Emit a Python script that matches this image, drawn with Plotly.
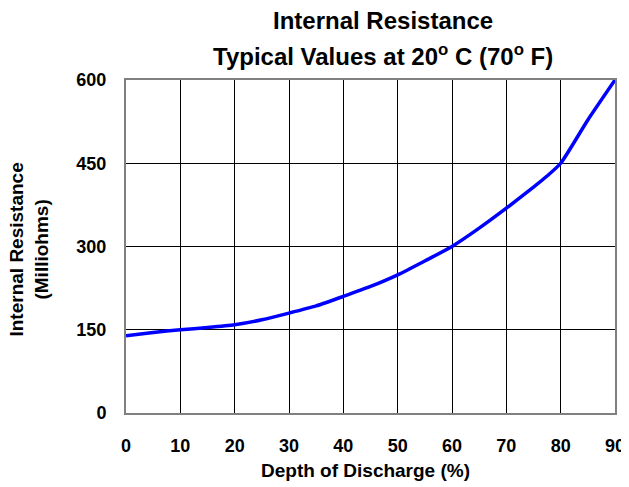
import plotly.graph_objects as go

depth = [0, 5, 10, 15, 20, 25, 30, 35, 40, 45, 50, 55, 60, 65, 70, 75, 77.5, 80, 85, 90]
resistance = [139, 145, 150, 154, 159, 168, 180, 193, 210, 228, 249, 274, 300, 333, 369, 407, 427, 450, 528, 600]

x_ticks = [0, 10, 20, 30, 40, 50, 60, 70, 80, 90]
y_ticks = [0, 150, 300, 450, 600]

title_line1 = "Internal Resistance"
title_line2 = "Typical Values at 20<sup>o</sup> C (70<sup>o</sup> F)"
x_title = "Depth of Discharge (%)"
y_title = "Internal Resistance<br>(Milliohms)"

FONT = "Liberation Sans, Arial, sans-serif"

fig = go.Figure()
fig.add_trace(go.Scatter(
    x=depth, y=resistance, mode="lines",
    line=dict(color="#0000FF", width=3.5, shape="spline", smoothing=0.6),
    hoverinfo="skip", showlegend=False,
))

axis_common = dict(
    showgrid=True, gridcolor="#000000", gridwidth=1,
    showline=True, linecolor="#808080", linewidth=2, mirror=True,
    zeroline=False, ticks="", automargin=False, ticklabeloverflow="allow",
    tickfont=dict(family=FONT, size=18, color="#000000", weight="bold"),
)

fig.update_xaxes(range=[0, 90], tickvals=x_ticks, ticktext=[str(v) for v in x_ticks],
                 ticklabelstandoff=15, **axis_common)
fig.update_yaxes(range=[0, 600], tickvals=y_ticks, ticktext=[str(v) for v in y_ticks],
                 ticklabelstandoff=14, **axis_common)

annotations = [
    dict(text="<b>" + title_line1 + "</b>", x=0.5256, y=1.1787, xref="paper", yref="paper",
         xanchor="center", yanchor="middle", showarrow=False,
         font=dict(family=FONT, size=24, color="#000000")),
    dict(text="<b>" + title_line2 + "</b>", x=0.5256, y=1.075, xref="paper", yref="paper",
         xanchor="center", yanchor="middle", showarrow=False,
         font=dict(family=FONT, size=24, color="#000000")),
    dict(text="<b>" + x_title + "</b>", x=0.4888, y=-0.173, xref="paper", yref="paper",
         xanchor="center", yanchor="middle", showarrow=False,
         font=dict(family=FONT, size=19, color="#000000")),
    dict(text="<b>" + y_title + "</b>", x=-0.199, y=0.49, xref="paper", yref="paper",
         xanchor="center", yanchor="middle", showarrow=False, textangle=-90,
         font=dict(family=FONT, size=19, color="#000000")),
]

fig.update_layout(
    width=621, height=479,
    margin=dict(l=118, r=14, t=72, b=74),
    paper_bgcolor="#FFFFFF", plot_bgcolor="#FFFFFF",
    annotations=annotations,
    showlegend=False,
)

fig.write_html("out.html")
